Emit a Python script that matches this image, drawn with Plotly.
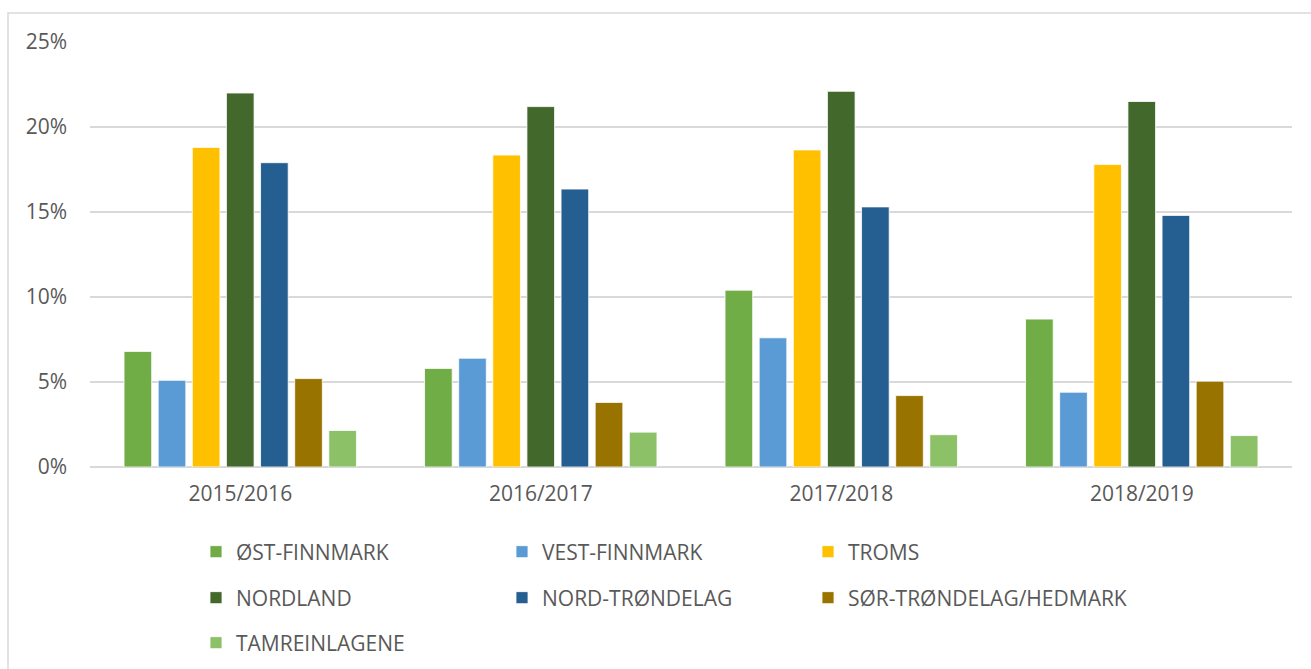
import plotly.graph_objects as go

seasons = ["2015/2016", "2016/2017", "2017/2018", "2018/2019"]
series_names = ["ØST-FINNMARK", "VEST-FINNMARK", "TROMS", "NORDLAND",
                "NORD-TRØNDELAG", "SØR-TRØNDELAG/HEDMARK", "TAMREINLAGENE"]
ost_finnmark = [6.8, 5.8, 10.4, 8.7]
vest_finnmark = [5.1, 6.4, 7.6, 4.4]
troms = [18.8, 18.35, 18.65, 17.8]
nordland = [22.0, 21.2, 22.1, 21.5]
nord_trondelag = [17.9, 16.35, 15.3, 14.8]
sor_trondelag_hedmark = [5.2, 3.8, 4.2, 5.05]
tamreinlagene = [2.15, 2.05, 1.9, 1.85]
colors = ["#70AD47", "#5B9BD5", "#FFC000", "#43682B", "#255E91", "#997300", "#8CC168"]
values = [ost_finnmark, vest_finnmark, troms, nordland, nord_trondelag,
          sor_trondelag_hedmark, tamreinlagene]

FONT = "Open Sans"
TXT = "#595959"
FS = 21

W, H = 1311, 669
L, R, T, B = 90, 19, 42, 202
pw = W - L - R
ph = H - T - B

def px_x(x):
    return (x - L) / pw

def px_y(y):
    return (H - B - y) / ph

legend_cols = [196, 502, 808]
legend_rows = [552, 598, 643]

fig = go.Figure()
legend_layouts = {}
for i, (name, vals, col) in enumerate(zip(series_names, values, colors)):
    lid = "legend" if i == 0 else f"legend{i + 1}"
    fig.add_trace(go.Bar(
        x=seasons, y=vals, name=name, legend=lid, showlegend=True,
        marker=dict(color=col, line=dict(color="white", width=0.8)),
    ))
    legend_layouts[lid] = dict(
        x=px_x(legend_cols[i % 3]), y=px_y(legend_rows[i // 3]),
        xanchor="left", yanchor="middle", bgcolor="rgba(0,0,0,0)",
        font=dict(family=FONT, size=FS, color=TXT),
    )

fig.update_layout(
    width=W, height=H, showlegend=True,
    margin=dict(l=L, r=R, t=T, b=B, autoexpand=False),
    plot_bgcolor="white", paper_bgcolor="white",
    barmode="group", bargap=0.205, bargroupgap=0.19,
    font=dict(family=FONT, color=TXT, size=FS),
    xaxis=dict(showgrid=False, showline=False, ticks="",
               tickfont=dict(family=FONT, size=FS, color=TXT),
               ticklabelstandoff=12),
    yaxis=dict(range=[0, 25], dtick=5, ticksuffix="%", showgrid=True,
               gridcolor="#D9D9D9", gridwidth=1.5, zeroline=True,
               zerolinecolor="#D9D9D9", zerolinewidth=1.5, showline=False,
               tickfont=dict(family=FONT, size=FS, color=TXT),
               ticklabelstandoff=22),
    shapes=[dict(type="rect", xref="paper", yref="paper",
                 x0=px_x(8), x1=px_x(1318), y0=px_y(690), y1=px_y(13),
                 line=dict(color="#D9D9D9", width=1.5), fillcolor="rgba(0,0,0,0)",
                 layer="below")],
    **legend_layouts,
)

fig.write_html(
    "out.html",
    config={"displayModeBar": False},
    post_script="document.body.style.margin='0';document.body.style.overflow='hidden';",
)
